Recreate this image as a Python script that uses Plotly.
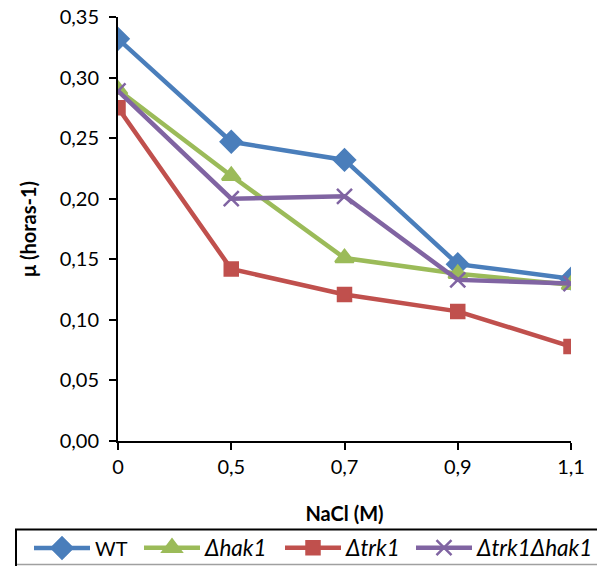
import plotly.graph_objects as go

nacl_labels = ["0", "0,5", "0,7", "0,9", "1,1"]
wt = [0.332, 0.247, 0.232, 0.146, 0.134]
hak1 = [0.290, 0.219, 0.151, 0.138, 0.129]
trk1 = [0.275, 0.142, 0.121, 0.107, 0.078]
trk1hak1 = [0.289, 0.200, 0.202, 0.133, 0.130]

W, H = 597, 566
ml, mr, mt, mb = 118, 26, 17, 125
pw, ph = W - ml - mr, H - mt - mb

# legend entry left edges (px) in the figure
legend_px = [29, 139, 280, 411]
legend_fs = [20, 22.5, 22.5, 22.5]

series = [
    ("WT", wt, "#4A7EBB", "diamond", 16),
    ("<i>Δhak1</i>", hak1, "#9BBB59", "triangle-up", 16),
    ("<i>Δtrk1</i>", trk1, "#C0504D", "square", 13),
    ("<i>Δtrk1Δhak1</i>", trk1hak1, "#8064A2", "x-thin-open", 15),
]

fig = go.Figure()
legend_layout = {}
for i, (name, vals, color, sym, size) in enumerate(series):
    lname = "legend" if i == 0 else f"legend{i+1}"
    fig.add_trace(go.Scatter(
        x=nacl_labels, y=vals, name=name, mode="lines+markers",
        line=dict(color=color, width=4.5),
        marker=dict(symbol=sym, size=size, color=color,
                    line=dict(color=color, width=2.5)),
        legend=lname,
    ))
    legend_layout[lname] = dict(
        orientation="h", xref="container", yref="container",
        x=legend_px[i] / W, y=(H - 548) / H, xanchor="left", yanchor="middle",
        font=dict(size=legend_fs[i]), bgcolor="rgba(0,0,0,0)", itemwidth=56,
    )

def px2x(px):
    return (px - ml) / pw

def py2y(py):
    return (H - mb - py) / ph

fig.update_layout(
    width=W, height=H,
    margin=dict(l=ml, r=mr, t=mt, b=mb),
    paper_bgcolor="white", plot_bgcolor="white",
    font=dict(family="Lato, Open Sans, sans-serif", size=20, color="black"),
    showlegend=True,
    shapes=[
        dict(type="rect", xref="paper", yref="paper",
             x0=px2x(16), x1=px2x(600), y0=py2y(529.5), y1=py2y(575),
             line=dict(color="black", width=2), fillcolor="rgba(0,0,0,0)"),
        dict(type="line", xref="paper", yref="paper",
             x0=px2x(17), x1=px2x(600), y0=py2y(564.5), y1=py2y(564.5),
             line=dict(color="#A0A0A0", width=1.5)),
    ],
    separators=",.",
    **legend_layout,
)
fig.update_xaxes(
    type="category", range=[0, 4], showline=True, linecolor="black", linewidth=2,
    ticks="outside", ticklen=7, tickcolor="black", tickwidth=1.5,
    showgrid=False, zeroline=False, automargin=False,
    title=dict(text="<b>NaCl (M)</b>", font=dict(size=20), standoff=30),
)
fig.update_yaxes(
    range=[0, 0.35], dtick=0.05, tickformat=".2f",
    showline=True, linecolor="black", linewidth=2,
    ticks="outside", ticklen=7, tickcolor="black", tickwidth=1.5,
    ticklabelstandoff=6,
    showgrid=False, zeroline=False, automargin=False,
    title=dict(text="<b>μ (horas-1)</b>", font=dict(size=20), standoff=18),
)

fig.write_html("out.html")
